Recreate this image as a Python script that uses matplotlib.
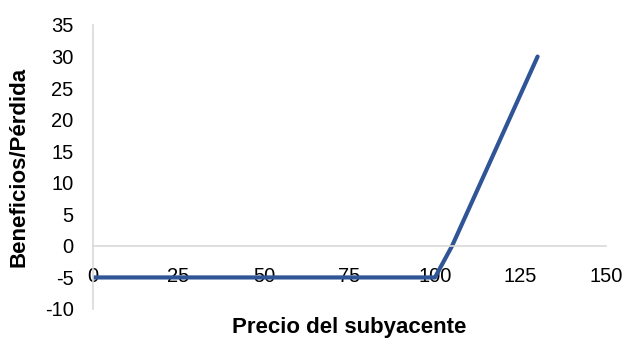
import matplotlib.pyplot as plt

plt.rcParams['font.family'] = ['Liberation Sans', 'DejaVu Sans']
plt.rcParams['axes.unicode_minus'] = False

# payoff of a long call (strike 100, premium 5)
precio = [0, 25, 50, 75, 100, 105, 130]
beneficio = [-5, -5, -5, -5, -5, 0, 30]
xticks = [0, 25, 50, 75, 100, 125, 150]
yticks = [-10, -5, 0, 5, 10, 15, 20, 25, 30, 35]

fig = plt.figure(figsize=(6.25, 3.38), dpi=100)
ax = fig.add_axes([93 / 625, 1 - 309 / 338, (606 - 93) / 625, (309 - 25) / 338])

ax.plot(precio, beneficio, color="#2f5597", linewidth=3, solid_capstyle="round",
        solid_joinstyle="round")

ax.set_xlim(0, 150)
ax.set_ylim(-10, 35)
ax.set_xticks(xticks)
ax.set_yticks(yticks)
ax.tick_params(axis="both", length=0, labelsize=14.5, colors="black")
ax.tick_params(axis="x", pad=15)
ax.tick_params(axis="y", pad=14)

for s in ["top", "right"]:
    ax.spines[s].set_visible(False)
ax.spines["bottom"].set_position(("data", 0))
ax.spines["bottom"].set_color("#d9d9d9")
ax.spines["left"].set_color("#d9d9d9")
ax.spines["bottom"].set_linewidth(1.2)
ax.spines["left"].set_linewidth(1.2)

fig.text(349.5 / 625, 1 - 327 / 338, "Precio del subyacente", ha="center", va="center",
         fontsize=16, fontweight="bold")
fig.text(19 / 625, 1 - 167 / 338, "Beneficios/Pérdida", ha="center", va="center",
         rotation=90, fontsize=16, fontweight="bold")

fig.savefig("out.png", dpi=100)
